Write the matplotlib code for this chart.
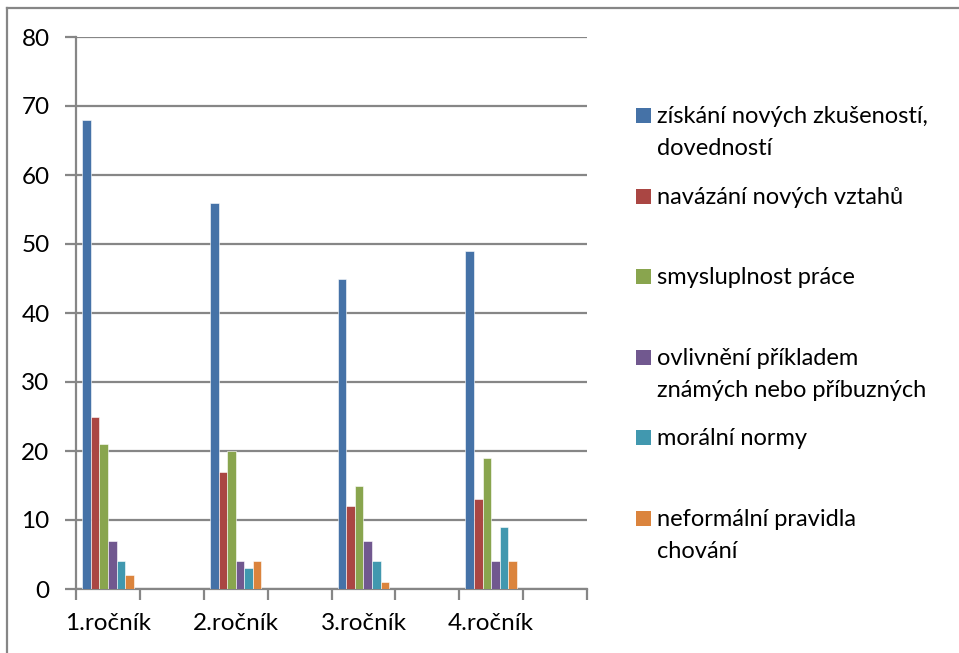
import matplotlib
matplotlib.use("Agg")
import matplotlib.pyplot as plt
from matplotlib.patches import Rectangle
from matplotlib.lines import Line2D

categories = ["1.ročník", "2.ročník", "3.ročník", "4.ročník"]
series_names = [
    "získání nových zkušeností,\ndovedností",
    "navázání nových vztahů",
    "smysluplnost práce",
    "ovlivnění příkladem\nznámých nebo příbuzných",
    "morální normy",
    "neformální pravidla\nchování",
]
values = [
    [68, 56, 45, 49],
    [25, 17, 12, 13],
    [21, 20, 15, 19],
    [7, 4, 7, 4],
    [4, 3, 4, 9],
    [2, 4, 1, 4],
]
colors = ["#4572A7", "#AA4643", "#89A54E", "#71588F", "#4198AF", "#DB843D"]
yticks = list(range(0, 81, 10))

plt.rcParams["font.family"] = ["Lato", "DejaVu Sans"]
W, H = 959, 653
fig = plt.figure(figsize=(W / 100, H / 100), dpi=100)
fig.patch.set_facecolor("white")

grid_c = "#868686"
ax = fig.add_axes([76 / W, 1 - 589 / H, (587 - 76) / W, (589 - 37) / H])

n_slots = 2 * len(categories)
bw = 0.1345
pad = (1 - bw * len(series_names)) / 2
for i, (name, vals) in enumerate(zip(series_names, values)):
    xs = [2 * j + pad + i * bw for j in range(len(categories))]
    ax.bar(xs, vals, width=bw, align="edge", color=colors[i],
           edgecolor="white", linewidth=0.4, zorder=3)

fs = 17.5
ax.set_xlim(0, n_slots)
ax.set_ylim(0, 80)
ax.set_yticks(yticks)
ax.yaxis.grid(True, color=grid_c, linewidth=1.6, zorder=0)
ax.set_axisbelow(True)
ax.set_xticks(range(n_slots + 1))
ax.set_xticklabels([])
ax.set_xticks([2 * j + 0.5 for j in range(len(categories))], minor=True)
ax.set_xticklabels(categories, minor=True)
ax.tick_params(axis="x", which="major", direction="out", length=8, width=1.6, color=grid_c)
ax.tick_params(axis="x", which="minor", length=0, pad=17, labelsize=fs)
ax.tick_params(axis="y", direction="out", length=8, width=1.6, color=grid_c, pad=11, labelsize=fs)
for s in ["top", "right"]:
    ax.spines[s].set_visible(False)
for s in ["left", "bottom"]:
    ax.spines[s].set_color(grid_c)
    ax.spines[s].set_linewidth(1.6)

# legend (manual, Excel-like even spacing)
leg_fs = 17
leg_y = [115, 196, 276, 357, 437, 518]
for i, name in enumerate(series_names):
    yc = leg_y[i]
    fig.patches.append(Rectangle((636 / W, 1 - (yc + 7.5) / H), 15 / W, 15 / H,
                                 transform=fig.transFigure, facecolor=colors[i],
                                 edgecolor="none"))
    for k, line in enumerate(name.split("\n")):
        fig.text(657 / W, 1 - (yc + 8 + 32 * k) / H, line, fontsize=leg_fs,
                 va="baseline", ha="left")

# outer chart border (top & left visible)
fig.add_artist(Line2D([7 / W, 7 / W], [0, 1 - 8 / H], transform=fig.transFigure,
                      color=grid_c, linewidth=1.6))
fig.add_artist(Line2D([7 / W, 1], [1 - 8 / H, 1 - 8 / H], transform=fig.transFigure,
                      color=grid_c, linewidth=1.6))

fig.savefig("out.png", dpi=100)
